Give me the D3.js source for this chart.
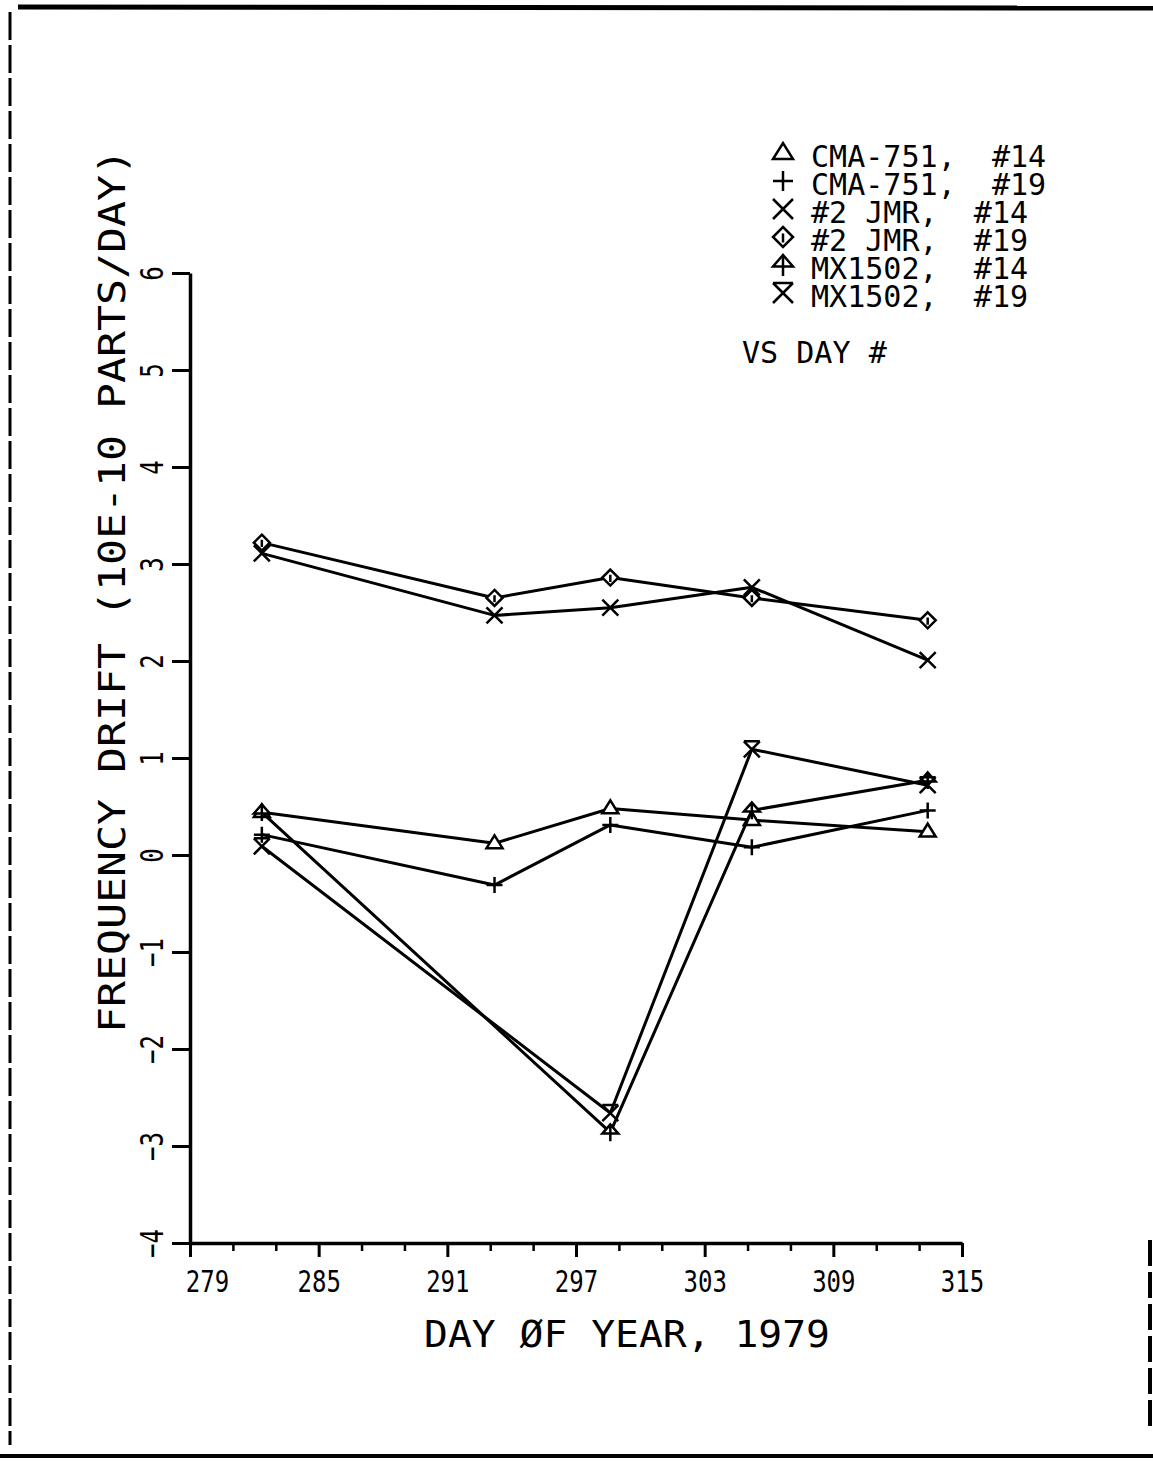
<!DOCTYPE html>
<html>
  <head>
    <meta charset="utf-8">
    <title>Frequency drift vs day</title>
    <script src="https://d3js.org/d3.v7.min.js"></script>
    <style>
      body { margin: 0; background: #fff; }
      svg text { font-family: "DejaVu Sans Mono", "Liberation Mono", monospace; fill: #000; white-space: pre; }
    </style>
  </head>
  <body>
    <div id="chart"></div>
    <script>
      // days where measurements were taken
      var days = [282.35, 293.2, 298.6, 305.2, 313.4];

      var cma14 = [0.44, 0.12, 0.48, 0.36, 0.24];
      var cma19 = [0.21, -0.31, 0.31, 0.08, 0.46];
      var jmr14 = [3.11, 2.47, 2.55, 2.76, 2.01];
      var jmr19 = [3.22, 2.65, 2.86, 2.65, 2.42];
      // MX1502 not measured on day 293
      var mx14 = [0.44, null, -2.86, 0.46, 0.77];
      var mx19 = [0.09, null, -2.66, 1.09, 0.72];

      var seriesNames = ["CMA-751,  #14", "CMA-751,  #19", "#2 JMR,  #14", "#2 JMR,  #19", "MX1502,  #14", "MX1502,  #19"];
      var seriesValues = [cma14, cma19, jmr14, jmr19, mx14, mx19];
      var seriesSymbols = ["tri", "plus", "x", "diamond", "arrow", "hour"];

      var xTicks = [279, 285, 291, 297, 303, 309, 315];
      var yTicks = [-4, -3, -2, -1, 0, 1, 2, 3, 4, 5, 6];

      var W = 1153, H = 1461;

      var svg = d3.select("#chart").append("svg")
        .attr("width", W)
        .attr("height", H);

      // page frame from the scan
      svg.append("line").attr("x1", 18).attr("y1", 7).attr("x2", W).attr("y2", 8)
        .attr("stroke", "#000").attr("stroke-width", 5);
      svg.append("line").attr("x1", 0).attr("y1", 1456).attr("x2", W).attr("y2", 1456)
        .attr("stroke", "#000").attr("stroke-width", 4);
      svg.append("line").attr("x1", 10).attr("y1", 12).attr("x2", 10).attr("y2", 1445)
        .attr("stroke", "#000").attr("stroke-width", 3).attr("stroke-dasharray", "28,5");
      svg.append("line").attr("x1", 1150).attr("y1", 1240).attr("x2", 1150).attr("y2", 1432)
        .attr("stroke", "#000").attr("stroke-width", 4).attr("stroke-dasharray", "26,6");

      var x = d3.scaleLinear().domain([279, 315]).range([190, 962]);
      var y = d3.scaleLinear().domain([-4, 6]).range([1243, 273]);

      // minor x ticks every 2 days
      var minor = d3.range(279, 316, 2).filter(function(d) { return xTicks.indexOf(d) < 0; });
      svg.append("g")
        .attr("transform", "translate(0," + y(-4) + ")")
        .call(d3.axisBottom(x).tickValues(minor).tickSize(8).tickSizeOuter(0).tickFormat(""))
        .call(function(g) { g.select(".domain").remove(); })
        .selectAll("line").attr("stroke-width", 2.5);

      var gx = svg.append("g")
        .attr("transform", "translate(0," + y(-4) + ")")
        .call(d3.axisBottom(x).tickValues(xTicks).tickSize(14).tickSizeOuter(0));
      gx.select(".domain").attr("stroke-width", 3.5);
      gx.selectAll("line").attr("stroke-width", 3);
      gx.selectAll("text")
        .attr("y", 0).attr("dy", 0)
        .attr("font-size", 30)
        .attr("transform", function(d, i) { return "translate(" + (i === 0 ? 17 : 0) + ",49) scale(0.8,1)"; });

      var gy = svg.append("g")
        .attr("transform", "translate(" + x(279) + ",0)")
        .call(d3.axisLeft(y).tickValues(yTicks).tickSize(18).tickSizeOuter(0));
      gy.select(".domain").attr("stroke-width", 3.5);
      gy.selectAll("line").attr("stroke-width", 3);
      gy.selectAll("text")
        .attr("x", 0).attr("dy", 0)
        .attr("text-anchor", "middle")
        .attr("font-size", 32)
        .attr("transform", "translate(-27,0) rotate(-90) scale(0.75,1)");

      svg.selectAll(".tick text").style("font-family", "'DejaVu Sans Mono', monospace");

      // axis titles
      svg.append("text")
        .attr("x", 424).attr("y", 1347)
        .attr("font-size", 38)
        .attr("textLength", 406).attr("lengthAdjust", "spacingAndGlyphs")
        .text("DAY ØF YEAR, 1979");

      svg.append("text")
        .attr("transform", "translate(125,1033) rotate(-90)")
        .attr("font-size", 38)
        .attr("textLength", 884).attr("lengthAdjust", "spacingAndGlyphs")
        .text("FREQUENCY DRIFT (10E-10 PARTS/DAY)");

      function symbolPath(type, s) {
        if (type === "tri") return "M" + (-s) + "," + (0.6 * s) + "L" + s + "," + (0.6 * s) + "L0," + (-s) + "Z";
        if (type === "plus") return "M" + (-s) + ",0H" + s + "M0," + (-s) + "V" + s;
        if (type === "x") return "M" + (-s) + "," + (-s) + "L" + s + "," + s + "M" + (-s) + "," + s + "L" + s + "," + (-s);
        if (type === "diamond") return "M0," + (-s) + "L" + s + ",0L0," + s + "L" + (-s) + ",0Z" +
          "M0," + (-0.35 * s) + "V" + (0.55 * s);
        if (type === "arrow") return "M" + (-s) + "," + (0.15 * s) + "L" + s + "," + (0.15 * s) + "L0," + (-s) + "Z" +
          "M0," + (-s) + "V" + (1.1 * s);
        return "M" + (-s) + "," + (-s) + "H" + s + "M" + (-s) + "," + (-s) + "L" + s + "," + s +
          "M" + s + "," + (-s) + "L" + (-s) + "," + s;
      }

      var line = d3.line()
        .x(function(d) { return x(d.day); })
        .y(function(d) { return y(d.v); });

      seriesValues.forEach(function(vals, k) {
        var pts = [];
        vals.forEach(function(v, i) { if (v !== null) pts.push({ day: days[i], v: v }); });

        svg.append("path")
          .datum(pts)
          .attr("d", line)
          .attr("fill", "none")
          .attr("stroke", "#000")
          .attr("stroke-width", 3)
          .attr("stroke-linejoin", "round");

        svg.selectAll(".m" + k)
          .data(pts)
          .enter().append("path")
          .attr("class", "m" + k)
          .attr("transform", function(d) { return "translate(" + x(d.day) + "," + y(d.v) + ")"; })
          .attr("d", symbolPath(seriesSymbols[k], 8))
          .attr("fill", "#fff")
          .attr("stroke", "#000")
          .attr("stroke-width", 2.5);
      });

      // legend
      var legend = svg.append("g");
      seriesNames.forEach(function(name, i) {
        var base = 167 + 28 * i;
        legend.append("path")
          .attr("transform", "translate(783," + (base - 14) + ")")
          .attr("d", symbolPath(seriesSymbols[i], 10))
          .attr("fill", "none")
          .attr("stroke", "#000")
          .attr("stroke-width", 2.5);
        legend.append("text")
          .attr("transform", "translate(811," + base + ") scale(0.97,1)")
          .attr("font-size", 31)
          .text(name);
      });

      svg.append("text")
        .attr("transform", "translate(742,363) scale(0.97,1)")
        .attr("font-size", 31)
        .text("VS DAY #");
    </script>
  </body>
</html>
